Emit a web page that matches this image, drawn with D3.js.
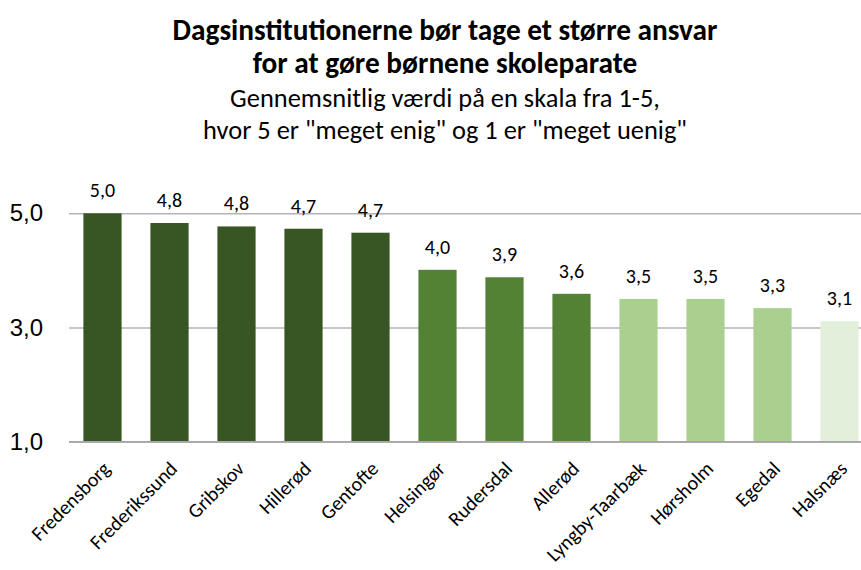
<!DOCTYPE html>
<html>
<head>
<meta charset="utf-8">
<script src="https://cdn.jsdelivr.net/npm/d3@7"></script>
<style>
  html, body { margin: 0; padding: 0; background: #fff; }
  svg { display: block; font-family: Carlito, Calibri, Lato, "Open Sans", sans-serif; }
</style>
</head>
<body>
<svg id="chart" width="861" height="570"></svg>
<script>
const titleLines = ["Dagsinstitutionerne bør tage et større ansvar", "for at gøre børnene skoleparate"];
const subtitleLines = ["Gennemsnitlig værdi på en skala fra 1-5,", "hvor 5 er \"meget enig\" og 1 er \"meget uenig\""];
const categories = ["Fredensborg", "Frederikssund", "Gribskov", "Hillerød", "Gentofte", "Helsingør", "Rudersdal", "Allerød", "Lyngby-Taarbæk", "Hørsholm", "Egedal", "Halsnæs"];
const values = [5.0, 4.83, 4.77, 4.73, 4.66, 4.01, 3.88, 3.59, 3.50, 3.50, 3.34, 3.11];
const groups = ["a", "a", "a", "a", "a", "b", "b", "b", "c", "c", "c", "d"];
const groupColors = ["#375623", "#548235", "#A9D08E", "#E2EFDA"];
const yTicks = [1, 3, 5];

const svg = d3.select("#chart");
const W = 861;

const x = d3.scaleBand().domain(categories).range([69, 873]).paddingInner(0.43).paddingOuter(0.215);
const y = d3.scaleLinear().domain([1, 5]).range([441.7, 213.3]);
const color = d3.scaleOrdinal().domain(["a", "b", "c", "d"]).range(groupColors);
const fmt = v => v.toFixed(1).replace(".", ",");

// gridlines + y labels
const yAxis = d3.axisLeft(y).tickValues(yTicks).tickSize(-(W - 69)).tickPadding(26).tickFormat(fmt);
const gy = svg.append("g").attr("transform", "translate(69,0)").call(yAxis);
gy.select(".domain").remove();
gy.selectAll(".tick line").attr("stroke", "#b4b4b4").attr("stroke-width", 1.4);
gy.selectAll(".tick text").attr("fill", "#000").style("font-size", "24px").style("font-family", "inherit");

// bars
svg.append("g").selectAll("rect").data(categories).join("rect")
  .attr("x", d => x(d))
  .attr("y", (d, i) => y(values[i]))
  .attr("width", x.bandwidth())
  .attr("height", (d, i) => y(1) - y(values[i]))
  .attr("fill", (d, i) => color(groups[i]));

// baseline
svg.append("line").attr("x1", 69).attr("x2", W).attr("y1", y(1)).attr("y2", y(1))
  .attr("stroke", "#a6a6a6").attr("stroke-width", 1.4);

// value labels
svg.append("g").selectAll("text").data(categories).join("text")
  .attr("x", d => x(d) + x.bandwidth() / 2)
  .attr("y", (d, i) => y(values[i]) - 16)
  .attr("text-anchor", "middle")
  .style("font-size", "20px")
  .attr("fill", "#000")
  .text((d, i) => fmt(values[i]));

// x labels
svg.append("g").selectAll("text").data(categories).join("text")
  .attr("transform", d => `translate(${x(d) + x.bandwidth() / 2 + 9},${470}) rotate(-45)`)
  .attr("text-anchor", "end")
  .style("font-size", "20px")
  .attr("fill", "#000")
  .text(d => d);

// titles
const cx = 445;
function fitLines(lines, baselines, weight, size, targetWidth) {
  const ts = lines.map((t, i) => svg.append("text")
    .attr("x", cx).attr("y", baselines[i]).attr("text-anchor", "middle")
    .style("font-weight", weight).style("font-size", size + "px").attr("fill", "#000").text(t));
  const w = ts[0].node().getComputedTextLength();
  const s = size * targetWidth / w;
  ts.forEach(t => t.style("font-size", s.toFixed(2) + "px"));
}
fitLines(titleLines, [40, 73], "bold", 24, 545);
fitLines(subtitleLines, [107, 139], "normal", 22, 430);
</script>
</body>
</html>
